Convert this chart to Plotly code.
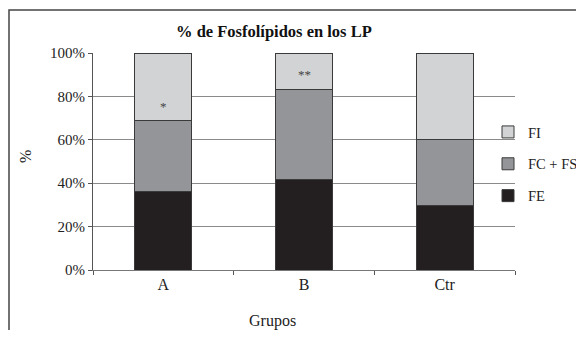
import plotly.graph_objects as go

# ---- data ----
categories = ["A", "B", "Ctr"]
series_names = ["FE", "FC + FS", "FI"]
fe_values = [36.4, 41.8, 29.5]
fcfs_values = [32.3, 41.6, 30.7]
fi_values = [31.3, 16.6, 39.8]
significance = ["*", "**", ""]
y_tick_values = [0, 20, 40, 60, 80, 100]
y_tick_labels = ["0%", "20%", "40%", "60%", "80%", "100%"]

colors = ["#231f20", "#939598", "#d1d3d4"]
legend_ranks = [3, 2, 1]
FONT = "Liberation Serif, Times New Roman, serif"

# page has an 8px body margin on every side; keep the figure inside the window
OFF = 8
W, H = 584 - 2 * OFF, 338 - 2 * OFF
L, T = 93 - OFF, 53 - OFF
R = W - (515 - OFF)
B = H - (270 - OFF)
PW, PH = W - L - R, H - T - B


def px_x(x):
    return (x - OFF - L) / PW


def px_y(y):
    return (H - B - (y - OFF)) / PH


fig = go.Figure()
for name, vals, col, rk in zip(series_names, [fe_values, fcfs_values, fi_values], colors, legend_ranks):
    fig.add_trace(go.Bar(
        x=categories, y=vals, name=name, legendgroup=name, legendrank=rk,
        marker=dict(color=col, line=dict(color="#3a3a3a", width=1)),
    ))

# significance marks inside the FI segment
for cat, fe, fc, s in zip(categories, fe_values, fcfs_values, significance):
    if s:
        fig.add_annotation(x=cat, y=fe + fc + 6.5, text=s, showarrow=False,
                           xanchor="center", yanchor="middle",
                           font=dict(family=FONT, size=13, color="#444444"))

# title
fig.add_annotation(x=px_x(274), y=px_y(31), xref="paper", yref="paper",
                   xanchor="center", yanchor="middle",
                   text="<b>% de Fosfolípidos en los LP</b>", showarrow=False,
                   font=dict(family=FONT, size=16.5, color="#111111"))
# x title
fig.add_annotation(x=px_x(272), y=px_y(321), xref="paper", yref="paper",
                   xanchor="center", yanchor="middle",
                   text="Grupos", showarrow=False,
                   font=dict(family=FONT, size=16, color="#222222"))
# y title
fig.add_annotation(x=px_x(25), y=px_y(157), xref="paper", yref="paper",
                   xanchor="center", yanchor="middle",
                   text="%", textangle=-90, showarrow=False,
                   font=dict(family=FONT, size=16, color="#222222"))

# outer chart border
fig.add_shape(type="rect", xref="paper", yref="paper",
              x0=px_x(9), y0=px_y(10), x1=px_x(620), y1=px_y(380),
              line=dict(color="#444444", width=1.5), fillcolor="rgba(0,0,0,0)", layer="below")

fig.update_layout(
    width=W, height=H,
    margin=dict(l=L, r=R, t=T, b=B, autoexpand=False),
    barmode="stack", bargap=0.595,
    paper_bgcolor="white", plot_bgcolor="white",
    font=dict(family=FONT, size=15, color="#222222"),
    showlegend=True,
    legend=dict(x=px_x(488), y=px_y(116), xanchor="left", yanchor="top",
                traceorder="grouped", tracegroupgap=10,
                font=dict(family=FONT, size=14.5, color="#222222"),
                bgcolor="rgba(0,0,0,0)", itemclick=False),
    xaxis=dict(showline=True, linecolor="#777777", linewidth=1.2,
               ticks="outside", tickson="boundaries", ticklen=4, tickcolor="#555555",
               tickfont=dict(family=FONT, size=16, color="#222222"),
               showgrid=False, automargin=False),
    yaxis=dict(range=[0, 100], tickvals=y_tick_values, ticktext=y_tick_labels,
               showline=True, linecolor="#555555", linewidth=1.2,
               ticks="outside", ticklen=4, tickcolor="#555555",
               tickfont=dict(family=FONT, size=15, color="#222222"),
               showgrid=True, gridcolor="#8a8a8a", gridwidth=1.2,
               zeroline=False, automargin=False),
)

fig.write_html("out.html")
